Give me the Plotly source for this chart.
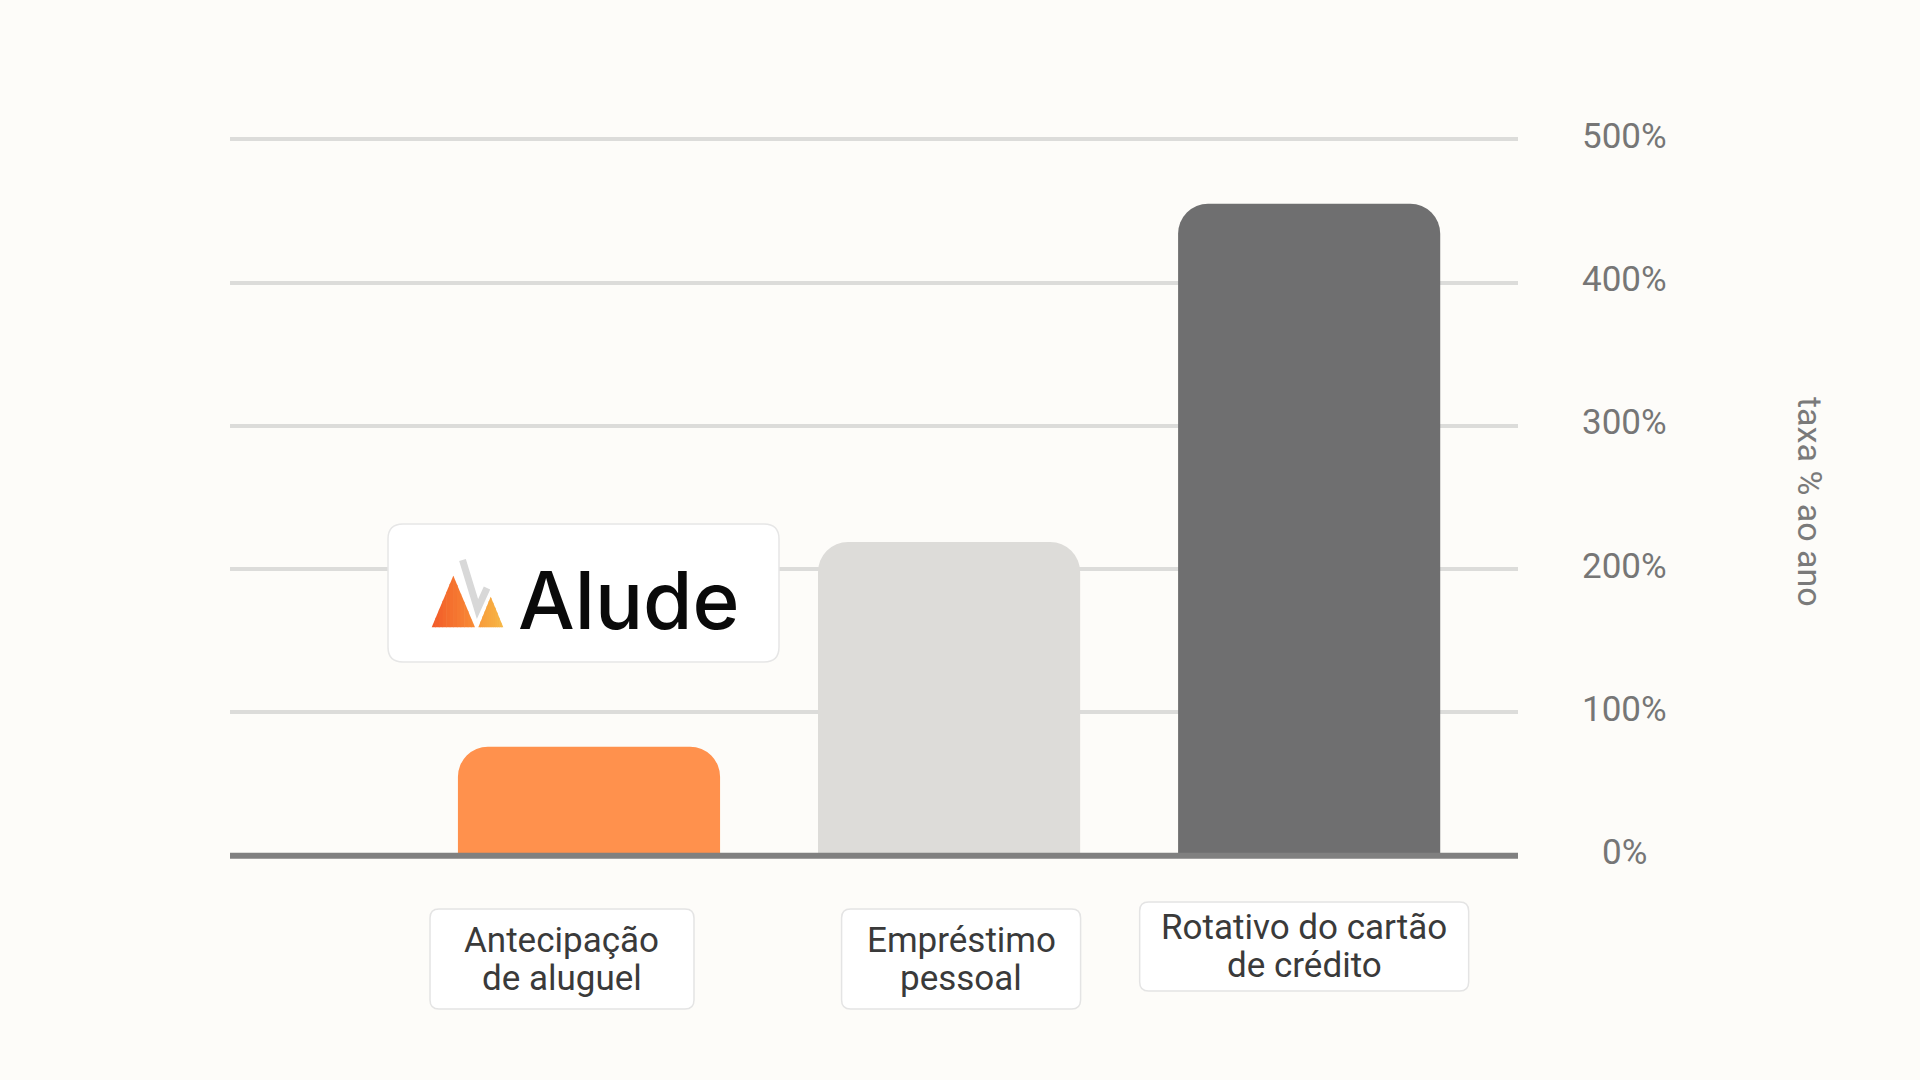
import plotly.graph_objects as go

# ---------------- data ----------------
categories = ["Antecipação de aluguel", "Empréstimo pessoal", "Rotativo do cartão de crédito"]
label_lines = [["Antecipação", "de aluguel"], ["Empréstimo", "pessoal"], ["Rotativo do cartão", "de crédito"]]
rates = [76, 219, 455]
tick_values = [0, 100, 200, 300, 400, 500]
tick_labels = ["0%", "100%", "200%", "300%", "400%", "500%"]
axis_title = "taxa % ao ano"
brand = "Alude"

# ---------------- style ----------------
bar_colors = ["#FF914D", "#DDDCD9", "#6F6F70"]
BG = "#FDFCF9"
OFF = 8                      # browser body margin
W, H = 1920 - 2 * OFF, 1080 - 2 * OFF
# plot area in page pixels
P_L, P_R, P_T, P_B = 230, 1518, 125, 870
L, T = P_L - OFF, P_T - OFF
R, B = W - (P_R - OFF), H - (P_B - OFF)
PW, PH = P_R - P_L, P_B - P_T
XR = [-0.997, 2.58]
YR = [-10, 510]


def px(xp):
    return (xp - P_L) / PW


def py(yp):
    return (P_B - yp) / PH


def cat_px(i):
    return P_L + (i - XR[0]) / (XR[1] - XR[0]) * PW


def rounded_rect(x0, y0, x1, y1, r):
    X = lambda v: f"{px(v):.5f}"
    Y = lambda v: f"{py(v):.5f}"
    return (f"M {X(x0 + r)},{Y(y0)} L {X(x1 - r)},{Y(y0)} Q {X(x1)},{Y(y0)} {X(x1)},{Y(y0 + r)} "
            f"L {X(x1)},{Y(y1 - r)} Q {X(x1)},{Y(y1)} {X(x1 - r)},{Y(y1)} "
            f"L {X(x0 + r)},{Y(y1)} Q {X(x0)},{Y(y1)} {X(x0)},{Y(y1 - r)} "
            f"L {X(x0)},{Y(y0 + r)} Q {X(x0)},{Y(y0)} {X(x0 + r)},{Y(y0)} Z")


def poly_path(pts, close=True):
    s = "M " + " L ".join(f"{px(x):.5f},{py(y):.5f}" for x, y in pts)
    return s + (" Z" if close else "")


def clip_vert(poly, xc, keep_greater):
    out = []
    n = len(poly)
    for i in range(n):
        P, Q = poly[i], poly[(i + 1) % n]
        inP = P[0] >= xc if keep_greater else P[0] <= xc
        inQ = Q[0] >= xc if keep_greater else Q[0] <= xc
        if inP:
            out.append(P)
        if inP != inQ:
            t = (xc - P[0]) / (Q[0] - P[0])
            out.append((xc, P[1] + t * (Q[1] - P[1])))
    return out


def mix(c1, c2, t):
    a = [int(c1[i:i + 2], 16) for i in (1, 3, 5)]
    b = [int(c2[i:i + 2], 16) for i in (1, 3, 5)]
    return "#" + "".join(f"{round(a[k] + (b[k] - a[k]) * t):02x}" for k in range(3))


def gradient_triangle(tri, c1, c2, n=12):
    xs = [p[0] for p in tri]
    x0, x1 = min(xs), max(xs)
    out = []
    for k in range(n):
        a = x0 + (x1 - x0) * k / n
        b = x0 + (x1 - x0) * (k + 1) / n + (0.6 if k < n - 1 else 0)
        poly = clip_vert(clip_vert(tri, a, True), b, False)
        if len(poly) >= 3:
            out.append(dict(type="path", xref="paper", yref="paper", path=poly_path(poly),
                            fillcolor=mix(c1, c2, (k + 0.5) / n), line=dict(width=0), layer="above"))
    return out


fig = go.Figure()
fig.add_trace(go.Bar(
    x=categories, y=rates, marker=dict(color=bar_colors, line=dict(width=0)),
    width=0.728, hoverinfo="skip", showlegend=False,
))

shapes = []
annotations = []

# zero axis line above bars
shapes.append(dict(type="line", xref="paper", x0=0, x1=1, yref="y", y0=0, y1=0,
                   line=dict(color="#808080", width=6), layer="above"))

# right-side tick labels (centered)
for v, t in zip(tick_values, tick_labels):
    annotations.append(dict(x=px(1624), xref="paper", y=v, yref="y", text=t, showarrow=False,
                            xanchor="center", yanchor="middle", yshift=3,
                            font=dict(family="Roboto", size=35, color="#767676")))

# axis title
annotations.append(dict(x=px(1810), xref="paper", y=py(502), yref="paper", text=axis_title,
                        showarrow=False, textangle=90, xanchor="center", yanchor="middle",
                        font=dict(family="Roboto", size=34, color="#7A7A7A")))

# category label boxes
box_w = [264, 239, 329]
box_shift = [-27, 12, -5]
box_y = [(909, 1009), (909, 1009), (902, 991)]
line_gap = 38
for i, lines in enumerate(label_lines):
    cx = cat_px(i) + box_shift[i]
    y0, y1 = box_y[i]
    cy = (y0 + y1) / 2
    shapes.append(dict(type="path", xref="paper", yref="paper",
                       path=rounded_rect(cx - box_w[i] / 2, y0, cx + box_w[i] / 2, y1, 9),
                       fillcolor="#FFFFFF", line=dict(color="#E4E4E4", width=1.5), layer="above"))
    for j, ln in enumerate(lines):
        yy = cy + (j - (len(lines) - 1) / 2) * line_gap
        annotations.append(dict(x=px(cx), xref="paper", y=py(yy), yref="paper", text=ln,
                                showarrow=False, xanchor="center", yanchor="middle",
                                font=dict(family="Roboto", size=35, color="#3A3A3A")))

# logo box
shapes.append(dict(type="path", xref="paper", yref="paper",
                   path=rounded_rect(388, 524, 779, 662, 15),
                   fillcolor="#FFFFFF", line=dict(color="#E6E6E6", width=1.5), layer="above"))
annotations.append(dict(x=px(628), xref="paper", y=py(599), yref="paper", text=brand,
                        showarrow=False, xanchor="center", yanchor="middle",
                        font=dict(family="Inter", size=80, color="#0A0A0A", weight=500)))

# logo icon
shapes.append(dict(type="path", xref="paper", yref="paper",
                   path=poly_path([(462.5, 560), (477.5, 609), (487, 588)], close=False),
                   line=dict(color="#D8D8D8", width=7), fillcolor="rgba(0,0,0,0)", layer="above"))
shapes += gradient_triangle([(431.7, 627.3), (475.0, 627.3), (453.3, 575.7)], "#F25A28", "#F88C36")
shapes += gradient_triangle([(478.3, 627.3), (503.3, 627.3), (490.7, 596.7)], "#F89B3B", "#F6B745")

fig.update_layout(
    width=W, height=H,
    margin=dict(l=L, r=R, t=T, b=B, pad=0),
    paper_bgcolor=BG, plot_bgcolor=BG,
    barcornerradius=30,
    xaxis=dict(range=XR, showticklabels=False, showgrid=False, zeroline=False, showline=False,
               ticks="", fixedrange=True),
    yaxis=dict(range=YR, tickvals=tick_values[1:], showticklabels=False, showgrid=True,
               gridcolor="#DCDCDA", gridwidth=4, zeroline=False, showline=False, ticks="",
               side="right", fixedrange=True),
    shapes=shapes,
    annotations=annotations,
    showlegend=False,
)

fig.write_html("out.html", post_script=f"document.body.style.background='{BG}';")
